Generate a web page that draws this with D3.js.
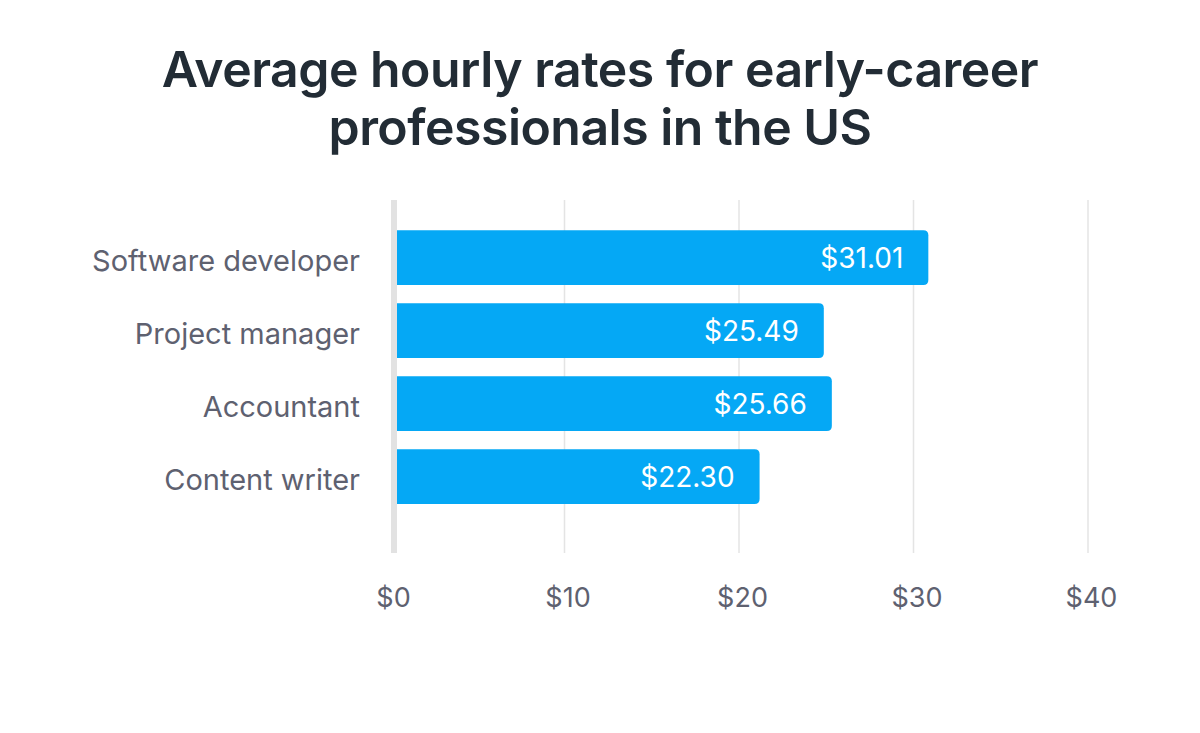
<!DOCTYPE html>
<html>
<head>
<meta charset="utf-8">
<script src="https://cdn.jsdelivr.net/npm/d3@7"></script>
<style>
  body { margin: 0; background: #fff; }
  svg { display: block; font-family: Inter, "Noto Sans", sans-serif; }
</style>
</head>
<body>
<div id="chart"></div>
<script>
// Data
const titleLines = ["Average hourly rates for early-career", "professionals in the US"];
const roles = ["Software developer", "Project manager", "Accountant", "Content writer"];
const rates = [31.01, 25.49, 25.66, 22.30];          // printed labels
const barLengths = [30.85, 24.86, 25.32, 21.18];     // bar ends as drawn in the picture
const tickValues = [0, 10, 20, 30, 40];

const width = 1200;
const height = 733;

const svg = d3.select("#chart")
  .append("svg")
  .attr("width", width)
  .attr("height", height);

svg.append("rect").attr("width", width).attr("height", height).attr("fill", "#fff");

// Title
const title = svg.append("g")
  .selectAll("text")
  .data(titleLines)
  .enter()
  .append("text")
  .text(d => d)
  .attr("x", width / 2)
  .attr("y", (d, i) => 87 + i * 58)
  .attr("text-anchor", "middle")
  .attr("font-size", 48)
  .attr("font-weight", 600)
  .attr("letter-spacing", -0.5)
  .attr("fill", "#222c35");

// squeeze title to the reference width
const firstLen = title.node().getComputedTextLength();
title.attr("font-size", 48 * 876 / firstLen);

// Scales
const x = d3.scaleLinear().domain([0, 40]).range([390, 1088]);
const y = d3.scaleBand().domain(roles).range([221, 513]).paddingInner(0.25).paddingOuter(0.125);

// Grid
svg.append("g")
  .selectAll("line")
  .data(tickValues.slice(1))
  .enter()
  .append("line")
  .attr("x1", d => x(d))
  .attr("x2", d => x(d))
  .attr("y1", 200)
  .attr("y2", 553)
  .attr("stroke", "#e4e4e4")
  .attr("stroke-width", 1.5);

// Bars (rounded on the right only)
svg.append("g")
  .selectAll("path")
  .data(roles)
  .enter()
  .append("path")
  .attr("d", (d, i) => {
    const x0 = x(0) + 3, x1 = x(barLengths[i]);
    const y0 = y(d), y1 = y(d) + y.bandwidth();
    const r = 5;
    return `M${x0},${y0}H${x1 - r}Q${x1},${y0} ${x1},${y0 + r}V${y1 - r}Q${x1},${y1} ${x1 - r},${y1}H${x0}Z`;
  })
  .attr("fill", "#05a8f5");

// Zero axis line
svg.append("line")
  .attr("x1", x(0) + 4)
  .attr("x2", x(0) + 4)
  .attr("y1", 200)
  .attr("y2", 553)
  .attr("stroke", "#e2e2e2")
  .attr("stroke-width", 6);

// Value labels
svg.append("g")
  .selectAll("text")
  .data(roles)
  .enter()
  .append("text")
  .text((d, i) => "$" + rates[i].toFixed(2))
  .attr("x", (d, i) => x(barLengths[i]) - 25)
  .attr("y", d => y(d) + y.bandwidth() / 2)
  .attr("dy", "0.36em")
  .attr("text-anchor", "end")
  .attr("font-size", 28)
  .attr("fill", "#fff");

// Category labels
const yAxis = svg.append("g")
  .attr("transform", "translate(360,4)")
  .call(d3.axisLeft(y).tickSize(0).tickPadding(0));
yAxis.select(".domain").remove();
yAxis.selectAll("text")
  .attr("font-size", 29)
  .attr("font-family", "Inter, sans-serif")
  .attr("fill", "#5e6170");

// X tick labels
const xAxis = svg.append("g")
  .attr("transform", "translate(3,588)")
  .call(d3.axisBottom(x).tickValues(tickValues).tickFormat(d => "$" + d).tickSize(0).tickPadding(0));
xAxis.select(".domain").remove();
xAxis.selectAll("text")
  .attr("font-size", 27)
  .attr("font-family", "Inter, sans-serif")
  .attr("fill", "#5e6170");
</script>
</body>
</html>
